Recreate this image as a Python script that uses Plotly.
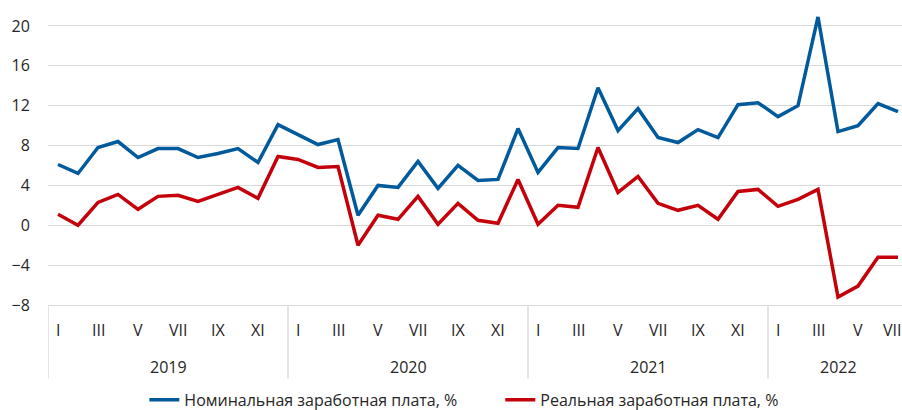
import plotly.graph_objects as go

roman = ["I", "II", "III", "IV", "V", "VI", "VII", "VIII", "IX", "X", "XI", "XII"]
years = ["2019", "2020", "2021", "2022"]
months_in_year = [12, 12, 12, 7]

nominal = [6.1, 5.2, 7.8, 8.4, 6.8, 7.7, 7.7, 6.8, 7.2, 7.7, 6.3, 10.1,
           9.1, 8.1, 8.6, 1.0, 4.0, 3.8, 6.4, 3.7, 6.0, 4.5, 4.6, 9.7,
           5.3, 7.8, 7.7, 13.8, 9.5, 11.7, 8.8, 8.3, 9.6, 8.8, 12.1, 12.3,
           10.9, 12.0, 20.9, 9.4, 10.0, 12.2, 11.4]
real = [1.1, 0.0, 2.3, 3.1, 1.6, 2.9, 3.0, 2.4, 3.1, 3.8, 2.7, 6.9,
        6.6, 5.8, 5.9, -2.0, 1.0, 0.6, 2.9, 0.1, 2.2, 0.5, 0.2, 4.6,
        0.1, 2.0, 1.8, 7.8, 3.3, 4.9, 2.2, 1.5, 2.0, 0.6, 3.4, 3.6,
        1.9, 2.6, 3.6, -7.2, -6.1, -3.2, -3.2]

name_nominal = "Номинальная заработная плата, %"
name_real = "Реальная заработная плата, %"

FONT = "Open Sans"
TXT = "#262626"
GRID = "#d9d9d9"

W, H = 902, 410
M_T, M_B, M_L = 11, 105, 48
PLOT_H = H - M_T - M_B


def below(px):
    """paper y for a point px pixels below the plot bottom"""
    return -px / PLOT_H


x = list(range(len(nominal)))
n_total = len(nominal)

fig = go.Figure()
fig.add_trace(go.Scatter(x=x, y=nominal, mode="lines", name=name_nominal,
                         line=dict(color="#005a9c", width=3.5)))
fig.add_trace(go.Scatter(x=x, y=real, mode="lines", name=name_real,
                         line=dict(color="#c4000a", width=3.5)))

annotations = []
shapes = []
start = 0
for yr, n in zip(years, months_in_year):
    for m in range(0, n, 2):
        last = (start + m == n_total - 1)
        annotations.append(dict(x=start + m, y=below(25), xref="x", yref="paper",
                                text=roman[m], showarrow=False, xanchor="center",
                                xshift=-6 if last else 0,
                                yanchor="middle", font=dict(family=FONT, size=16, color=TXT)))
    annotations.append(dict(x=start + (n - 1) / 2, y=below(62), xref="x", yref="paper",
                            text=yr, showarrow=False, xanchor="center", yanchor="middle",
                            font=dict(family=FONT, size=16, color=TXT)))
    shapes.append(dict(type="line", xref="x", yref="paper", x0=start - 0.5, x1=start - 0.5,
                       y0=0, y1=below(74), line=dict(color=GRID, width=1.3)))
    start += n

fig.update_layout(
    width=W, height=H,
    margin=dict(l=M_L, r=0, t=M_T, b=M_B),
    paper_bgcolor="white", plot_bgcolor="white",
    font=dict(family=FONT, size=16, color=TXT),
    showlegend=True,
    legend=dict(orientation="h", x=0.1128, xanchor="left",
                yref="container", y=0.025, yanchor="middle",
                font=dict(family=FONT, size=16, color=TXT), itemwidth=30,
                entrywidth=311, bgcolor="rgba(0,0,0,0)"),
    annotations=annotations,
    shapes=shapes,
)
fig.update_xaxes(range=[-0.5, 42.2], showgrid=False, zeroline=False, showticklabels=False,
                 showline=True, linecolor=GRID, linewidth=1.3, ticks="", fixedrange=True,
                 automargin=False)
fig.update_yaxes(range=[-8, 21.5], tickvals=[-8, -4, 0, 4, 8, 12, 16, 20], showgrid=True,
                 gridcolor=GRID, gridwidth=1.3, zeroline=False, showline=False,
                 ticks="outside", ticklen=14, tickcolor="rgba(0,0,0,0)",
                 tickfont=dict(family=FONT, size=16, color=TXT), fixedrange=True,
                 automargin=False)

fig.write_html("out.html", config={"displayModeBar": False},
               post_script="document.body.style.margin='0';")
